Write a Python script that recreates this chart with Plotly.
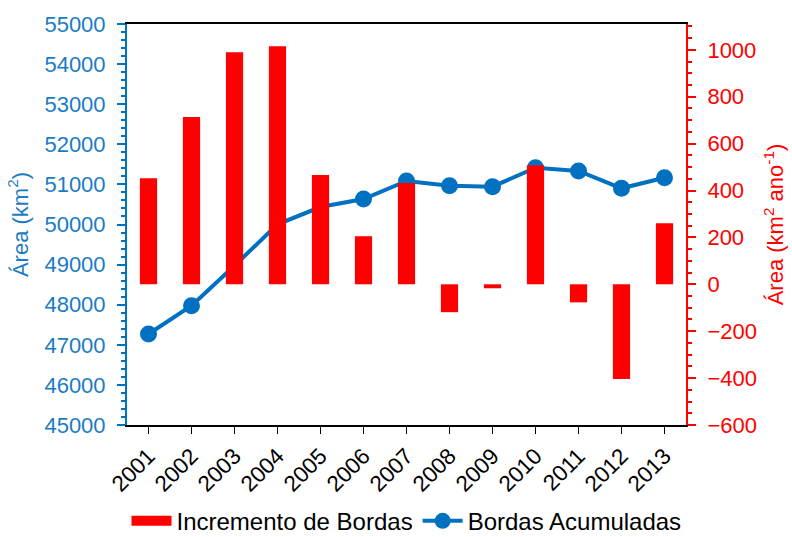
import plotly.graph_objects as go

years = ["2001", "2002", "2003", "2004", "2005", "2006", "2007",
         "2008", "2009", "2010", "2011", "2012", "2013"]
incremento = [452, 713, 990, 1015, 466, 205, 432, -119, -17, 508, -77, -404, 260]
acumuladas = [47270, 47975, 48973, 50005, 50436, 50636, 51085,
              50968, 50943, 51416, 51334, 50903, 51167]

BLUE = "#0070C0"
BLUE_TXT = "#1B7BC4"
RED = "#FF0000"
FONT = "Liberation Sans, Arial, sans-serif"

fig = go.Figure()
fig.add_trace(go.Bar(
    x=years, y=incremento, name="Incremento de Bordas",
    marker=dict(color=RED, line=dict(width=0)), width=0.4, yaxis="y2",
    showlegend=False,
))
# legend-only entry drawn as a wide red rectangle (no visible data)
fig.add_trace(go.Scatter(
    x=[years[0]], y=[None], name="Incremento de Bordas", mode="lines",
    line=dict(color=RED, width=13), yaxis="y2", showlegend=True,
))
fig.add_trace(go.Scatter(
    x=years, y=acumuladas, name="Bordas Acumuladas", mode="lines+markers",
    line=dict(color=BLUE, width=4), marker=dict(color=BLUE, size=17),
    yaxis="y",
))

fig.update_layout(
    width=792, height=537,
    margin=dict(l=127, r=106, t=24, b=112, autoexpand=False),
    paper_bgcolor="white", plot_bgcolor="white",
    font=dict(family=FONT, size=22, color="black"),
    showlegend=True,
    legend=dict(orientation="h", x=0.5, xanchor="center", y=-0.24, yanchor="middle",
                font=dict(size=24, color="black"), itemwidth=40, traceorder="normal"),
    xaxis=dict(type="category", categoryorder="array", categoryarray=years,
               range=[-0.5, len(years) - 0.5],
               showline=True, linecolor="black", linewidth=2,
               mirror=True, ticks="outside", ticklen=7, tickcolor="black",
               tickangle=-45, tickfont=dict(size=22.5, color="black"),
               showgrid=False, zeroline=False, automargin=False),
    yaxis=dict(range=[45000, 55000], dtick=1000, tick0=45000, tickformat="d",
               showline=True, linecolor=BLUE, linewidth=2,
               ticks="outside", ticklen=8, tickcolor=BLUE, tickwidth=2,
               ticklabelstandoff=7,
               minor=dict(dtick=200, ticks="outside", ticklen=4, tickcolor=BLUE, tickwidth=2),
               tickfont=dict(size=22, color=BLUE_TXT), showgrid=False, zeroline=False,
               automargin=False,
               title=dict(text="Área (km<sup>2</sup>)", font=dict(size=22, color=BLUE_TXT), standoff=10)),
    yaxis2=dict(range=[-600, 1110], overlaying="y", side="right",
                tickvals=[-600, -400, -200, 0, 200, 400, 600, 800, 1000],
                showline=True, linecolor=RED, linewidth=2,
                ticks="outside", ticklen=8, tickcolor=RED, tickwidth=2,
                ticklabelstandoff=7,
                minor=dict(dtick=50, tick0=0, ticks="outside", ticklen=4, tickcolor=RED, tickwidth=2),
                tickfont=dict(size=22, color=RED), showgrid=False, zeroline=False,
                automargin=False,
                title=dict(text="Área (km<sup>2</sup> ano<sup>-1</sup>)", font=dict(size=22, color=RED), standoff=12)),
)

fig.write_html("out.html", config={"displayModeBar": False},
               post_script="document.body.style.margin='0';document.body.style.overflow='hidden';")
